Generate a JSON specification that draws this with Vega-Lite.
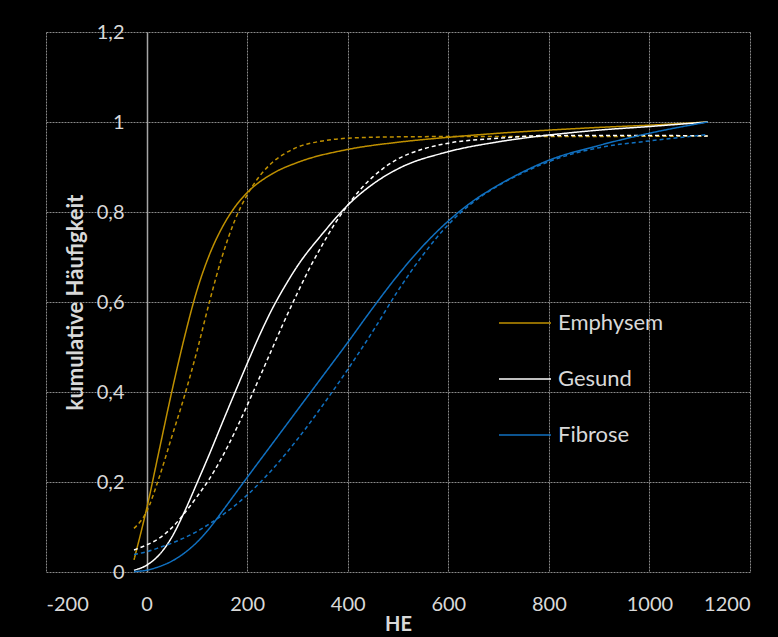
{
  "$schema": "https://vega.github.io/schema/vega-lite/v6.json",
  "width": 704,
  "height": 540,
  "autosize": {"type": "none"},
  "padding": {"left": 46, "top": 32, "right": 28, "bottom": 65},
  "background": "#000000",
  "config": {
    "view": {"stroke": null, "fill": "#000000"},
    "font": "Lato"
  },
  "datasets": {
    "kurven": [
      {"g":"Emphysem","t":"solid","he":-25,"v":0.027},
      {"g":"Emphysem","t":"solid","he":0,"v":0.14},
      {"g":"Emphysem","t":"solid","he":25,"v":0.27},
      {"g":"Emphysem","t":"solid","he":50,"v":0.40},
      {"g":"Emphysem","t":"solid","he":75,"v":0.52},
      {"g":"Emphysem","t":"solid","he":100,"v":0.625},
      {"g":"Emphysem","t":"solid","he":125,"v":0.705},
      {"g":"Emphysem","t":"solid","he":150,"v":0.765},
      {"g":"Emphysem","t":"solid","he":175,"v":0.81},
      {"g":"Emphysem","t":"solid","he":200,"v":0.843},
      {"g":"Emphysem","t":"solid","he":250,"v":0.885},
      {"g":"Emphysem","t":"solid","he":300,"v":0.91},
      {"g":"Emphysem","t":"solid","he":400,"v":0.939},
      {"g":"Emphysem","t":"solid","he":500,"v":0.955},
      {"g":"Emphysem","t":"solid","he":600,"v":0.966},
      {"g":"Emphysem","t":"solid","he":700,"v":0.975},
      {"g":"Emphysem","t":"solid","he":800,"v":0.982},
      {"g":"Emphysem","t":"solid","he":900,"v":0.988},
      {"g":"Emphysem","t":"solid","he":1000,"v":0.993},
      {"g":"Emphysem","t":"solid","he":1116,"v":1.0},
      {"g":"Emphysem","t":"dashed","he":-25,"v":0.097},
      {"g":"Emphysem","t":"dashed","he":0,"v":0.134},
      {"g":"Emphysem","t":"dashed","he":25,"v":0.21},
      {"g":"Emphysem","t":"dashed","he":50,"v":0.30},
      {"g":"Emphysem","t":"dashed","he":75,"v":0.39},
      {"g":"Emphysem","t":"dashed","he":100,"v":0.49},
      {"g":"Emphysem","t":"dashed","he":125,"v":0.60},
      {"g":"Emphysem","t":"dashed","he":150,"v":0.70},
      {"g":"Emphysem","t":"dashed","he":175,"v":0.78},
      {"g":"Emphysem","t":"dashed","he":200,"v":0.838},
      {"g":"Emphysem","t":"dashed","he":225,"v":0.88},
      {"g":"Emphysem","t":"dashed","he":250,"v":0.91},
      {"g":"Emphysem","t":"dashed","he":275,"v":0.93},
      {"g":"Emphysem","t":"dashed","he":300,"v":0.944},
      {"g":"Emphysem","t":"dashed","he":350,"v":0.958},
      {"g":"Emphysem","t":"dashed","he":400,"v":0.964},
      {"g":"Emphysem","t":"dashed","he":500,"v":0.967},
      {"g":"Emphysem","t":"dashed","he":700,"v":0.968},
      {"g":"Emphysem","t":"dashed","he":900,"v":0.968},
      {"g":"Emphysem","t":"dashed","he":1116,"v":0.969},
      {"g":"Gesund","t":"solid","he":-25,"v":0.004},
      {"g":"Gesund","t":"solid","he":0,"v":0.015},
      {"g":"Gesund","t":"solid","he":25,"v":0.038},
      {"g":"Gesund","t":"solid","he":50,"v":0.077},
      {"g":"Gesund","t":"solid","he":75,"v":0.133},
      {"g":"Gesund","t":"solid","he":100,"v":0.197},
      {"g":"Gesund","t":"solid","he":125,"v":0.262},
      {"g":"Gesund","t":"solid","he":150,"v":0.33},
      {"g":"Gesund","t":"solid","he":175,"v":0.397},
      {"g":"Gesund","t":"solid","he":200,"v":0.463},
      {"g":"Gesund","t":"solid","he":225,"v":0.527},
      {"g":"Gesund","t":"solid","he":250,"v":0.585},
      {"g":"Gesund","t":"solid","he":275,"v":0.635},
      {"g":"Gesund","t":"solid","he":300,"v":0.68},
      {"g":"Gesund","t":"solid","he":350,"v":0.752},
      {"g":"Gesund","t":"solid","he":400,"v":0.815},
      {"g":"Gesund","t":"solid","he":450,"v":0.862},
      {"g":"Gesund","t":"solid","he":500,"v":0.896},
      {"g":"Gesund","t":"solid","he":600,"v":0.934},
      {"g":"Gesund","t":"solid","he":700,"v":0.956},
      {"g":"Gesund","t":"solid","he":800,"v":0.971},
      {"g":"Gesund","t":"solid","he":900,"v":0.982},
      {"g":"Gesund","t":"solid","he":1000,"v":0.99},
      {"g":"Gesund","t":"solid","he":1116,"v":1.0},
      {"g":"Gesund","t":"dashed","he":-25,"v":0.049},
      {"g":"Gesund","t":"dashed","he":0,"v":0.06},
      {"g":"Gesund","t":"dashed","he":25,"v":0.075},
      {"g":"Gesund","t":"dashed","he":50,"v":0.098},
      {"g":"Gesund","t":"dashed","he":75,"v":0.13},
      {"g":"Gesund","t":"dashed","he":100,"v":0.167},
      {"g":"Gesund","t":"dashed","he":125,"v":0.207},
      {"g":"Gesund","t":"dashed","he":150,"v":0.255},
      {"g":"Gesund","t":"dashed","he":175,"v":0.31},
      {"g":"Gesund","t":"dashed","he":200,"v":0.37},
      {"g":"Gesund","t":"dashed","he":225,"v":0.433},
      {"g":"Gesund","t":"dashed","he":250,"v":0.497},
      {"g":"Gesund","t":"dashed","he":275,"v":0.56},
      {"g":"Gesund","t":"dashed","he":300,"v":0.62},
      {"g":"Gesund","t":"dashed","he":325,"v":0.677},
      {"g":"Gesund","t":"dashed","he":350,"v":0.728},
      {"g":"Gesund","t":"dashed","he":375,"v":0.775},
      {"g":"Gesund","t":"dashed","he":400,"v":0.815},
      {"g":"Gesund","t":"dashed","he":425,"v":0.85},
      {"g":"Gesund","t":"dashed","he":450,"v":0.878},
      {"g":"Gesund","t":"dashed","he":500,"v":0.918},
      {"g":"Gesund","t":"dashed","he":550,"v":0.94},
      {"g":"Gesund","t":"dashed","he":600,"v":0.953},
      {"g":"Gesund","t":"dashed","he":700,"v":0.964},
      {"g":"Gesund","t":"dashed","he":800,"v":0.970},
      {"g":"Gesund","t":"dashed","he":1000,"v":0.970},
      {"g":"Gesund","t":"dashed","he":1116,"v":0.969},
      {"g":"Fibrose","t":"solid","he":-25,"v":0.001},
      {"g":"Fibrose","t":"solid","he":0,"v":0.004},
      {"g":"Fibrose","t":"solid","he":25,"v":0.012},
      {"g":"Fibrose","t":"solid","he":50,"v":0.024},
      {"g":"Fibrose","t":"solid","he":75,"v":0.042},
      {"g":"Fibrose","t":"solid","he":100,"v":0.066},
      {"g":"Fibrose","t":"solid","he":125,"v":0.097},
      {"g":"Fibrose","t":"solid","he":150,"v":0.134},
      {"g":"Fibrose","t":"solid","he":175,"v":0.172},
      {"g":"Fibrose","t":"solid","he":200,"v":0.21},
      {"g":"Fibrose","t":"solid","he":250,"v":0.285},
      {"g":"Fibrose","t":"solid","he":300,"v":0.36},
      {"g":"Fibrose","t":"solid","he":350,"v":0.435},
      {"g":"Fibrose","t":"solid","he":400,"v":0.51},
      {"g":"Fibrose","t":"solid","he":450,"v":0.587},
      {"g":"Fibrose","t":"solid","he":500,"v":0.66},
      {"g":"Fibrose","t":"solid","he":550,"v":0.725},
      {"g":"Fibrose","t":"solid","he":600,"v":0.78},
      {"g":"Fibrose","t":"solid","he":650,"v":0.825},
      {"g":"Fibrose","t":"solid","he":700,"v":0.86},
      {"g":"Fibrose","t":"solid","he":750,"v":0.89},
      {"g":"Fibrose","t":"solid","he":800,"v":0.915},
      {"g":"Fibrose","t":"solid","he":900,"v":0.948},
      {"g":"Fibrose","t":"solid","he":1000,"v":0.975},
      {"g":"Fibrose","t":"solid","he":1116,"v":1.0},
      {"g":"Fibrose","t":"dashed","he":-25,"v":0.039},
      {"g":"Fibrose","t":"dashed","he":0,"v":0.045},
      {"g":"Fibrose","t":"dashed","he":25,"v":0.054},
      {"g":"Fibrose","t":"dashed","he":50,"v":0.064},
      {"g":"Fibrose","t":"dashed","he":75,"v":0.076},
      {"g":"Fibrose","t":"dashed","he":100,"v":0.09},
      {"g":"Fibrose","t":"dashed","he":125,"v":0.107},
      {"g":"Fibrose","t":"dashed","he":150,"v":0.126},
      {"g":"Fibrose","t":"dashed","he":175,"v":0.147},
      {"g":"Fibrose","t":"dashed","he":200,"v":0.171},
      {"g":"Fibrose","t":"dashed","he":250,"v":0.228},
      {"g":"Fibrose","t":"dashed","he":300,"v":0.295},
      {"g":"Fibrose","t":"dashed","he":350,"v":0.37},
      {"g":"Fibrose","t":"dashed","he":400,"v":0.45},
      {"g":"Fibrose","t":"dashed","he":450,"v":0.535},
      {"g":"Fibrose","t":"dashed","he":500,"v":0.625},
      {"g":"Fibrose","t":"dashed","he":550,"v":0.705},
      {"g":"Fibrose","t":"dashed","he":600,"v":0.772},
      {"g":"Fibrose","t":"dashed","he":650,"v":0.822},
      {"g":"Fibrose","t":"dashed","he":700,"v":0.859},
      {"g":"Fibrose","t":"dashed","he":750,"v":0.888},
      {"g":"Fibrose","t":"dashed","he":800,"v":0.912},
      {"g":"Fibrose","t":"dashed","he":850,"v":0.93},
      {"g":"Fibrose","t":"dashed","he":900,"v":0.943},
      {"g":"Fibrose","t":"dashed","he":1000,"v":0.958},
      {"g":"Fibrose","t":"dashed","he":1116,"v":0.972}
    ]
  },
  "data": {"name": "kurven"},
  "mark": {"type": "line", "interpolate": "monotone", "strokeWidth": 1.5},
  "encoding": {
    "x": {
      "field": "he", "type": "quantitative",
      "scale": {"domain": [-200, 1200], "nice": false, "zero": false},
      "axis": {
        "title": "HE",
        "values": [-200, 0, 200, 400, 600, 800, 1000, 1200],
        "labelExpr": "'' + datum.value",
        "grid": true, "gridColor": "#8a8a8a", "gridDash": [2, 1], "gridWidth": 1,
        "domain": false, "ticks": false, "tickSize": 0,
        "labelPadding": 22, "labelFontSize": 20, "labelColor": "#d9d9d9", "labelFont": "Lato",
        "titleFontSize": 20, "titleFontWeight": "bold", "titleColor": "#d9d9d9", "titleFont": "Lato",
        "titlePadding": 0
      }
    },
    "y": {
      "field": "v", "type": "quantitative",
      "scale": {"domain": [0, 1.2], "nice": false},
      "axis": {
        "title": "kumulative Häufigkeit",
        "values": [0, 0.2, 0.4, 0.6, 0.8, 1, 1.2],
        "labelExpr": "replace(format(datum.value, '.1~f'), '.', ',')",
        "offset": -101,
        "grid": true, "gridColor": "#8a8a8a", "gridDash": [2, 1], "gridWidth": 1,
        "domain": true, "domainColor": "#a6a6a6", "domainWidth": 1.5,
        "ticks": false, "tickSize": 0,
        "labelPadding": 23, "labelFontSize": 20, "labelColor": "#d9d9d9", "labelFont": "Lato",
        "titleFontSize": 22, "titleFontWeight": "bold", "titleColor": "#d9d9d9", "titleFont": "Lato",
        "titlePadding": 9
      }
    },
    "color": {
      "field": "g", "type": "nominal",
      "scale": {"domain": ["Emphysem", "Gesund", "Fibrose"], "range": ["#BF9000", "#FFFFFF", "#1070C0"]},
      "legend": {
        "title": null,
        "orient": "none",
        "legendX": 452,
        "legendY": 264,
        "symbolType": "stroke",
        "symbolSize": 2704,
        "symbolStrokeWidth": 1.5,
        "rowPadding": 18,
        "labelOffset": 6,
        "labelFontSize": 22,
        "labelFont": "Lato",
        "labelColor": "#d9d9d9"
      }
    },
    "strokeDash": {
      "field": "t", "type": "nominal",
      "scale": {"domain": ["solid", "dashed"], "range": [[1, 0], [4, 3]]},
      "legend": null
    }
  }
}
